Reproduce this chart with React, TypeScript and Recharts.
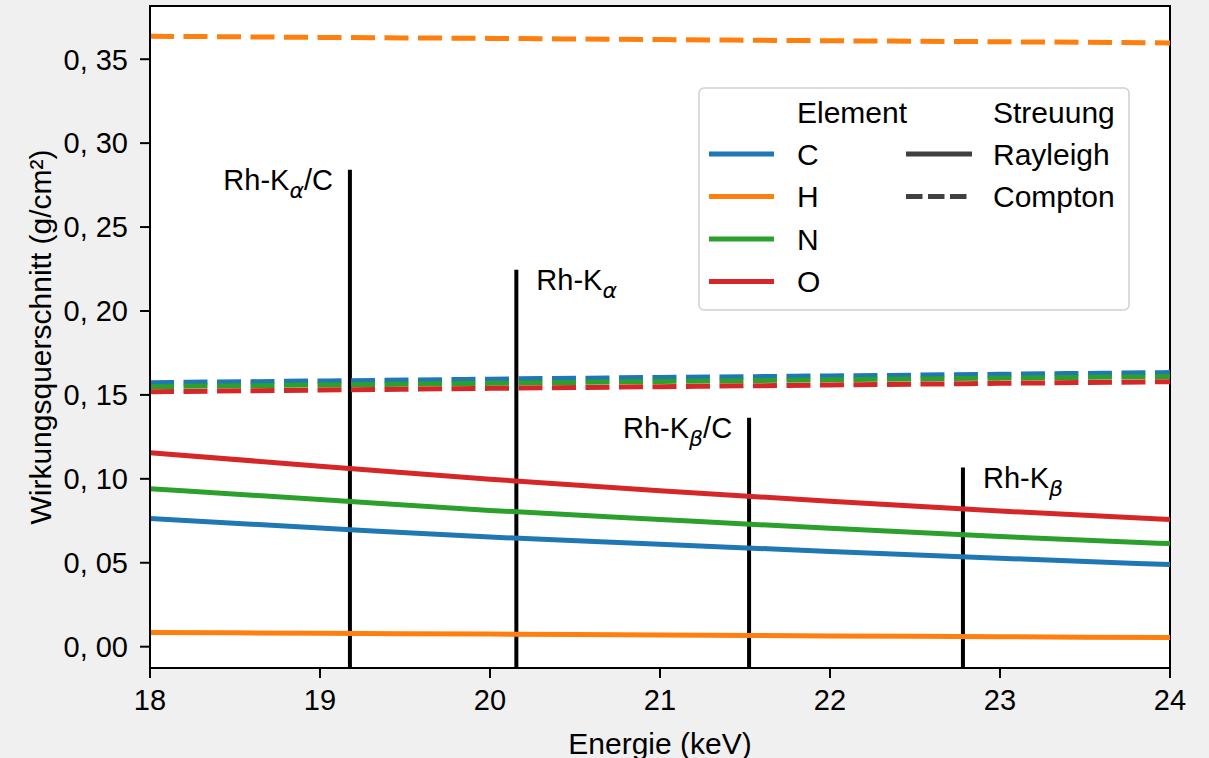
import React from 'react';
import { ComposedChart, Line, XAxis, YAxis, CartesianGrid, ReferenceArea } from 'recharts';

// Photon energies (keV) at which the cross sections are sampled
const energies = [18, 19, 20, 21, 22, 23, 24];

// Rayleigh (coherent) cross sections, g/cm²
const rayleighC = [0.0763, 0.0707, 0.0653, 0.0611, 0.0567, 0.0527, 0.0489];
const rayleighH = [0.0085, 0.0080, 0.0075, 0.0069, 0.0064, 0.0059, 0.0054];
const rayleighN = [0.0941, 0.0877, 0.0812, 0.0758, 0.0705, 0.0656, 0.0614];
const rayleighO = [0.1156, 0.1075, 0.0998, 0.0929, 0.0866, 0.0808, 0.0757];

// Compton (incoherent) cross sections, g/cm²
const comptonC = [0.1573, 0.1583, 0.1594, 0.1604, 0.1613, 0.1623, 0.1633];
const comptonH = [0.3637, 0.3630, 0.3624, 0.3617, 0.3610, 0.3604, 0.3597];
const comptonN = [0.1549, 0.1559, 0.1569, 0.1580, 0.1590, 0.1600, 0.1609];
const comptonO = [0.1519, 0.1529, 0.1539, 0.1549, 0.1559, 0.1569, 0.1579];

// Rh tube lines (and their Compton-shifted counterparts on carbon)
const tubeLineEnergies = [19.176, 20.155, 21.524, 22.782];
const tubeLineHeights = [0.2842, 0.2246, 0.1364, 0.1067];
const tubeLineSubscripts = ['α', 'α', 'β', 'β'];
const tubeLineSuffixes = ['/C', '', '/C', ''];

// Axis ticks
const xTicks = [18, 19, 20, 21, 22, 23, 24];
const yTicks = [0, 0.05, 0.1, 0.15, 0.2, 0.25, 0.3, 0.35];
const yTickLabels = ['0, 00', '0, 05', '0, 10', '0, 15', '0, 20', '0, 25', '0, 30', '0, 35'];

const elements = ['C', 'H', 'N', 'O'];
const scatterTypes = ['Rayleigh', 'Compton'];

const X_DOMAIN: [number, number] = [18, 24];
const Y_DOMAIN: [number, number] = [-0.0127, 0.3817];

const COLORS: Record<string, string> = {
  C: '#1f77b4',
  H: '#ff7f0e',
  N: '#2ca02c',
  O: '#d62728',
};

const FONT = '"Liberation Sans", Arial, Helvetica, sans-serif';
const DASH = '24 9.5';
const LW = 5;

const table = energies.map((e, i) => ({
  e,
  rC: rayleighC[i],
  rH: rayleighH[i],
  rN: rayleighN[i],
  rO: rayleighO[i],
  cC: comptonC[i],
  cH: comptonH[i],
  cN: comptonN[i],
  cO: comptonO[i],
}));

const tubeLines = tubeLineEnergies.map((e, i) => [
  { e, y: Y_DOMAIN[0] },
  { e, y: tubeLineHeights[i] },
]);

const makeTubeLabel = (i: number) => (props: any) => {
  if (props.index !== 1) return null;
  const suffix = tubeLineSuffixes[i];
  const onLeft = suffix !== '';
  const x = onLeft ? props.x - 17 : props.x + 20;
  const y = props.y + 20;
  return (
    <text
      x={x}
      y={y}
      textAnchor={onLeft ? 'end' : 'start'}
      fontFamily={FONT}
      fontSize={29}
      fill="#000"
    >
      Rh-K
      <tspan
        dy={8}
        fontSize={22}
        fontStyle="italic"
        fontFamily='"DejaVu Sans", sans-serif'
      >
        {tubeLineSubscripts[i]}
      </tspan>
      {suffix ? <tspan dy={-8}>{suffix}</tspan> : null}
    </text>
  );
};

const ChartLegend = () => {
  const rowY = (k: number) => 67 + k * 42.5;
  const textProps = {
    dominantBaseline: 'central' as const,
    fontFamily: FONT,
    fontSize: 30,
    fill: '#000',
  };
  return (
    <svg
      width={432}
      height={224}
      style={{ position: 'absolute', left: 698, top: 87 }}
    >
      <rect
        x={1}
        y={1}
        width={430}
        height={222}
        rx={5}
        fill="#fff"
        fillOpacity={0.85}
        stroke="#d0d0d0"
        strokeWidth={1.5}
      />
      <text x={99} y={25} {...textProps}>
        Element
      </text>
      {elements.map((el, k) => (
        <g key={el}>
          <line x1={11} x2={76} y1={rowY(k)} y2={rowY(k)} stroke={COLORS[el]} strokeWidth={LW} />
          <text x={99} y={rowY(k)} {...textProps}>
            {el}
          </text>
        </g>
      ))}
      <text x={295} y={25} {...textProps}>
        Streuung
      </text>
      {scatterTypes.map((s, k) => (
        <g key={s}>
          <line
            x1={208}
            x2={274}
            y1={rowY(k)}
            y2={rowY(k)}
            stroke="#404040"
            strokeWidth={LW}
            strokeDasharray={k === 1 ? '16.5 5.5' : undefined}
          />
          <text x={295} y={rowY(k)} {...textProps}>
            {s}
          </text>
        </g>
      ))}
    </svg>
  );
};

export default function App() {
  const tickStyle = { fill: '#000', fontSize: 29, fontFamily: FONT };
  return (
    <div
      style={{
        position: 'absolute',
        left: 0,
        top: 0,
        width: 1209,
        height: 758,
        background: '#f0f0f0',
      }}
    >
      <ComposedChart
        width={1209}
        height={758}
        data={table}
        margin={{ top: 6, right: 39, bottom: 10, left: 20 }}
      >
        <CartesianGrid fill="#ffffff" horizontal={false} vertical={false} />
        <XAxis
          dataKey="e"
          type="number"
          domain={X_DOMAIN}
          ticks={xTicks}
          interval={0}
          allowDataOverflow
          height={80}
          tickSize={10}
          tickMargin={11}
          tick={tickStyle}
          tickLine={{ stroke: '#000', strokeWidth: 2 }}
          axisLine={{ stroke: '#000', strokeWidth: 2 }}
          label={(p: any) => {
            const vb = p.viewBox;
            return (
              <text
                x={vb.x + vb.width / 2}
                y={743}
                textAnchor="middle"
                dominantBaseline="central"
                fontFamily={FONT}
                fontSize={30}
                fill="#000"
              >
                Energie (keV)
              </text>
            );
          }}
        />
        <YAxis
          type="number"
          domain={Y_DOMAIN}
          ticks={yTicks}
          interval={0}
          allowDataOverflow
          width={130}
          tickSize={10}
          tickMargin={12}
          tick={tickStyle}
          tickFormatter={(v: number) => {
            const idx = yTicks.findIndex((t) => Math.abs(t - v) < 1e-9);
            return idx >= 0 ? yTickLabels[idx] : String(v);
          }}
          tickLine={{ stroke: '#000', strokeWidth: 2 }}
          axisLine={{ stroke: '#000', strokeWidth: 2 }}
          label={(p: any) => {
            const vb = p.viewBox;
            const cx = 40;
            const cy = vb.y + vb.height / 2;
            return (
              <text
                x={cx}
                y={cy}
                transform={`rotate(-90 ${cx} ${cy})`}
                textAnchor="middle"
                dominantBaseline="central"
                fontFamily={FONT}
                fontSize={30}
                fill="#000"
              >
                Wirkungsquerschnitt (g/cm²)
              </text>
            );
          }}
        />

        {tubeLines.map((pts, i) => (
          <Line
            key={`tube-${i}`}
            data={pts}
            dataKey="y"
            type="linear"
            stroke="#000"
            strokeWidth={4}
            dot={false}
            activeDot={false}
            isAnimationActive={false}
            label={makeTubeLabel(i)}
          />
        ))}

        {elements.map((el) => (
          <Line
            key={`r-${el}`}
            dataKey={`r${el}`}
            type="monotone"
            stroke={COLORS[el]}
            strokeWidth={LW}
            dot={false}
            activeDot={false}
            isAnimationActive={false}
          />
        ))}
        {elements.map((el) => (
          <Line
            key={`c-${el}`}
            dataKey={`c${el}`}
            type="monotone"
            stroke={COLORS[el]}
            strokeWidth={LW}
            strokeDasharray={DASH}
            dot={false}
            activeDot={false}
            isAnimationActive={false}
          />
        ))}

        {/* plot frame */}
        <ReferenceArea
          x1={X_DOMAIN[0]}
          x2={X_DOMAIN[1]}
          y1={Y_DOMAIN[0]}
          y2={Y_DOMAIN[1]}
          fill="none"
          fillOpacity={0}
          stroke="#000"
          strokeWidth={2}
          ifOverflow="visible"
        />
      </ComposedChart>
      <ChartLegend />
    </div>
  );
}
